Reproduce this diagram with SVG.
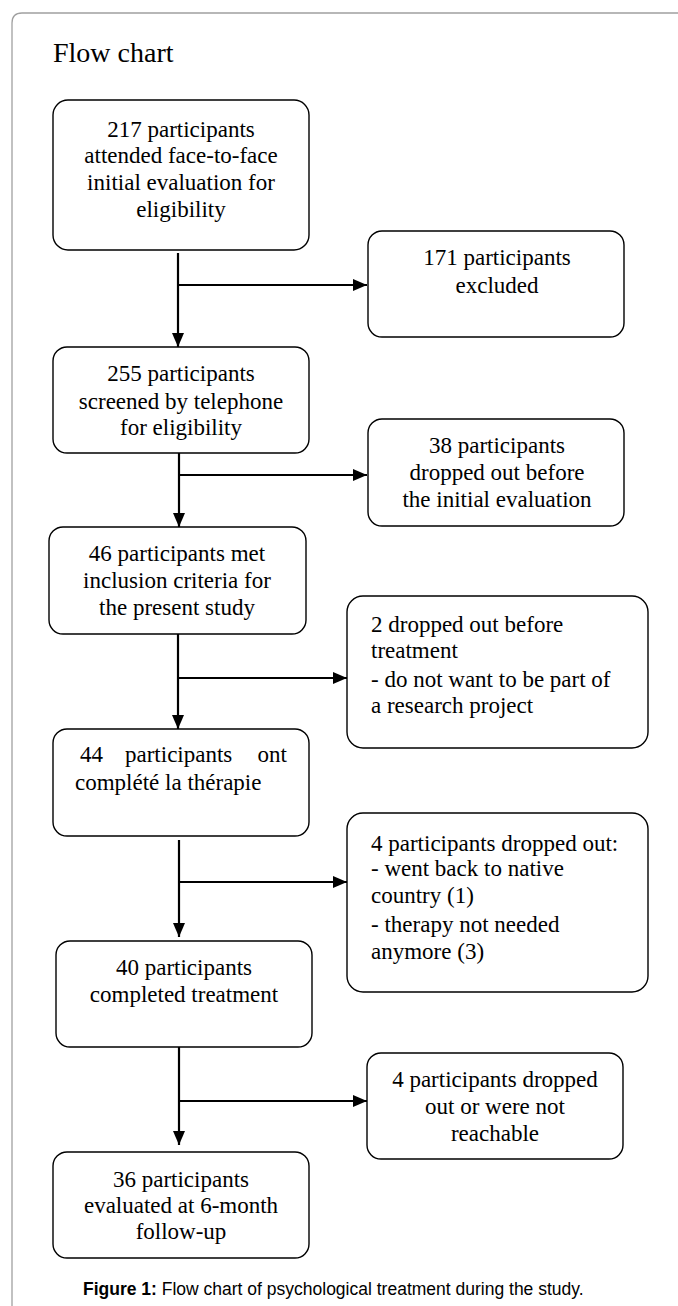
<svg xmlns="http://www.w3.org/2000/svg" width="678" height="1306" viewBox="0 0 678 1306">
<style>
.box{fill:#fff;stroke:#000;stroke-width:1.4}
.t{font-family:"Liberation Serif","Times New Roman",serif;font-size:23px;fill:#000}
.c{text-anchor:middle}
.conn{stroke:#000;stroke-width:2.2;fill:none}
</style>
<defs>
<marker id="ah" markerWidth="14" markerHeight="12" refX="14" refY="6" orient="auto" markerUnits="userSpaceOnUse">
<path d="M0,0 L14,6 L0,12 Z" fill="#000"/>
</marker>
</defs>
<rect width="678" height="1306" fill="#fff"/>
<path d="M12,1306 V23 Q12,13 22,13 H678" fill="none" stroke="#a0a0a0" stroke-width="1.3"/>
<text x="53" y="62" font-family="Liberation Serif, serif" font-size="28" fill="#000">Flow chart</text>

<g id="connectors">
<path class="conn" d="M178,253 V347" marker-end="url(#ah)"/>
<path class="conn" d="M178,285 H367" marker-end="url(#ah)"/>
<path class="conn" d="M179,453 V527" marker-end="url(#ah)"/>
<path class="conn" d="M179,475 H367" marker-end="url(#ah)"/>
<path class="conn" d="M178,634 V729" marker-end="url(#ah)"/>
<path class="conn" d="M178,678 H347" marker-end="url(#ah)"/>
<path class="conn" d="M179,840 V937" marker-end="url(#ah)"/>
<path class="conn" d="M179,882 H347" marker-end="url(#ah)"/>
<path class="conn" d="M179,1047 V1145" marker-end="url(#ah)"/>
<path class="conn" d="M179,1101 H367" marker-end="url(#ah)"/>
</g>

<g id="n1">
<rect class="box" x="53" y="100" width="256" height="150" rx="15"/>
<text class="t c" x="181" y="137">217 participants</text>
<text class="t c" x="181" y="163">attended face-to-face</text>
<text class="t c" x="181" y="190">initial evaluation for</text>
<text class="t c" x="181" y="217">eligibility</text>
</g>

<g id="n171">
<rect class="box" x="368" y="231" width="256" height="106" rx="14"/>
<text class="t c" x="497" y="265">171 participants</text>
<text class="t c" x="497" y="293">excluded</text>
</g>

<g id="n2">
<rect class="box" x="53" y="347" width="256" height="106" rx="14"/>
<text class="t c" x="181" y="381">255 participants</text>
<text class="t c" x="181" y="409">screened by telephone</text>
<text class="t c" x="181" y="435">for eligibility</text>
</g>

<g id="n38">
<rect class="box" x="368" y="419" width="256" height="107" rx="14"/>
<text class="t c" x="497" y="453">38 participants</text>
<text class="t c" x="497" y="480">dropped out before</text>
<text class="t c" x="497" y="507">the initial evaluation</text>
</g>

<g id="n3">
<rect class="box" x="49" y="527" width="257" height="107" rx="14"/>
<text class="t c" x="177" y="561">46 participants met</text>
<text class="t c" x="177" y="588">inclusion criteria for</text>
<text class="t c" x="177" y="615">the present study</text>
</g>

<g id="n2drop">
<rect class="box" x="347" y="596" width="301" height="152" rx="16"/>
<text class="t" x="371" y="632">2 dropped out before</text>
<text class="t" x="371" y="658">treatment</text>
<text class="t" x="371" y="687">- do not want to be part of</text>
<text class="t" x="371" y="713">a research project</text>
</g>

<g id="n4">
<rect class="box" x="53" y="729" width="256" height="107" rx="14"/>
<text class="t" x="80" y="762">44</text>
<text class="t" x="125" y="762">participants</text>
<text class="t" x="287" y="762" text-anchor="end">ont</text>
<text class="t" x="75" y="790">complété la thérapie</text>
</g>

<g id="n4drop">
<rect class="box" x="347" y="813" width="301" height="179" rx="16"/>
<text class="t" x="371" y="851">4 participants dropped out:</text>
<text class="t" x="371" y="876">- went back to native</text>
<text class="t" x="371" y="903">country (1)</text>
<text class="t" x="371" y="932">- therapy not needed</text>
<text class="t" x="371" y="959">anymore (3)</text>
</g>

<g id="n5">
<rect class="box" x="56" y="941" width="256" height="106" rx="14"/>
<text class="t c" x="184" y="975">40 participants</text>
<text class="t c" x="184" y="1002">completed treatment</text>
</g>

<g id="n4lost">
<rect class="box" x="367" y="1053" width="256" height="106" rx="14"/>
<text class="t c" x="495" y="1087">4 participants dropped</text>
<text class="t c" x="495" y="1114">out or were not</text>
<text class="t c" x="495" y="1141">reachable</text>
</g>

<g id="n6">
<rect class="box" x="53" y="1152" width="256" height="106" rx="14"/>
<text class="t c" x="181" y="1187">36 participants</text>
<text class="t c" x="181" y="1213">evaluated at 6-month</text>
<text class="t c" x="181" y="1239">follow-up</text>
</g>

<text x="83" y="1295" font-family="Liberation Sans, Arial, sans-serif" font-size="17.5" fill="#000"><tspan font-weight="bold">Figure 1:</tspan> Flow chart of psychological treatment during the study.</text>
</svg>
